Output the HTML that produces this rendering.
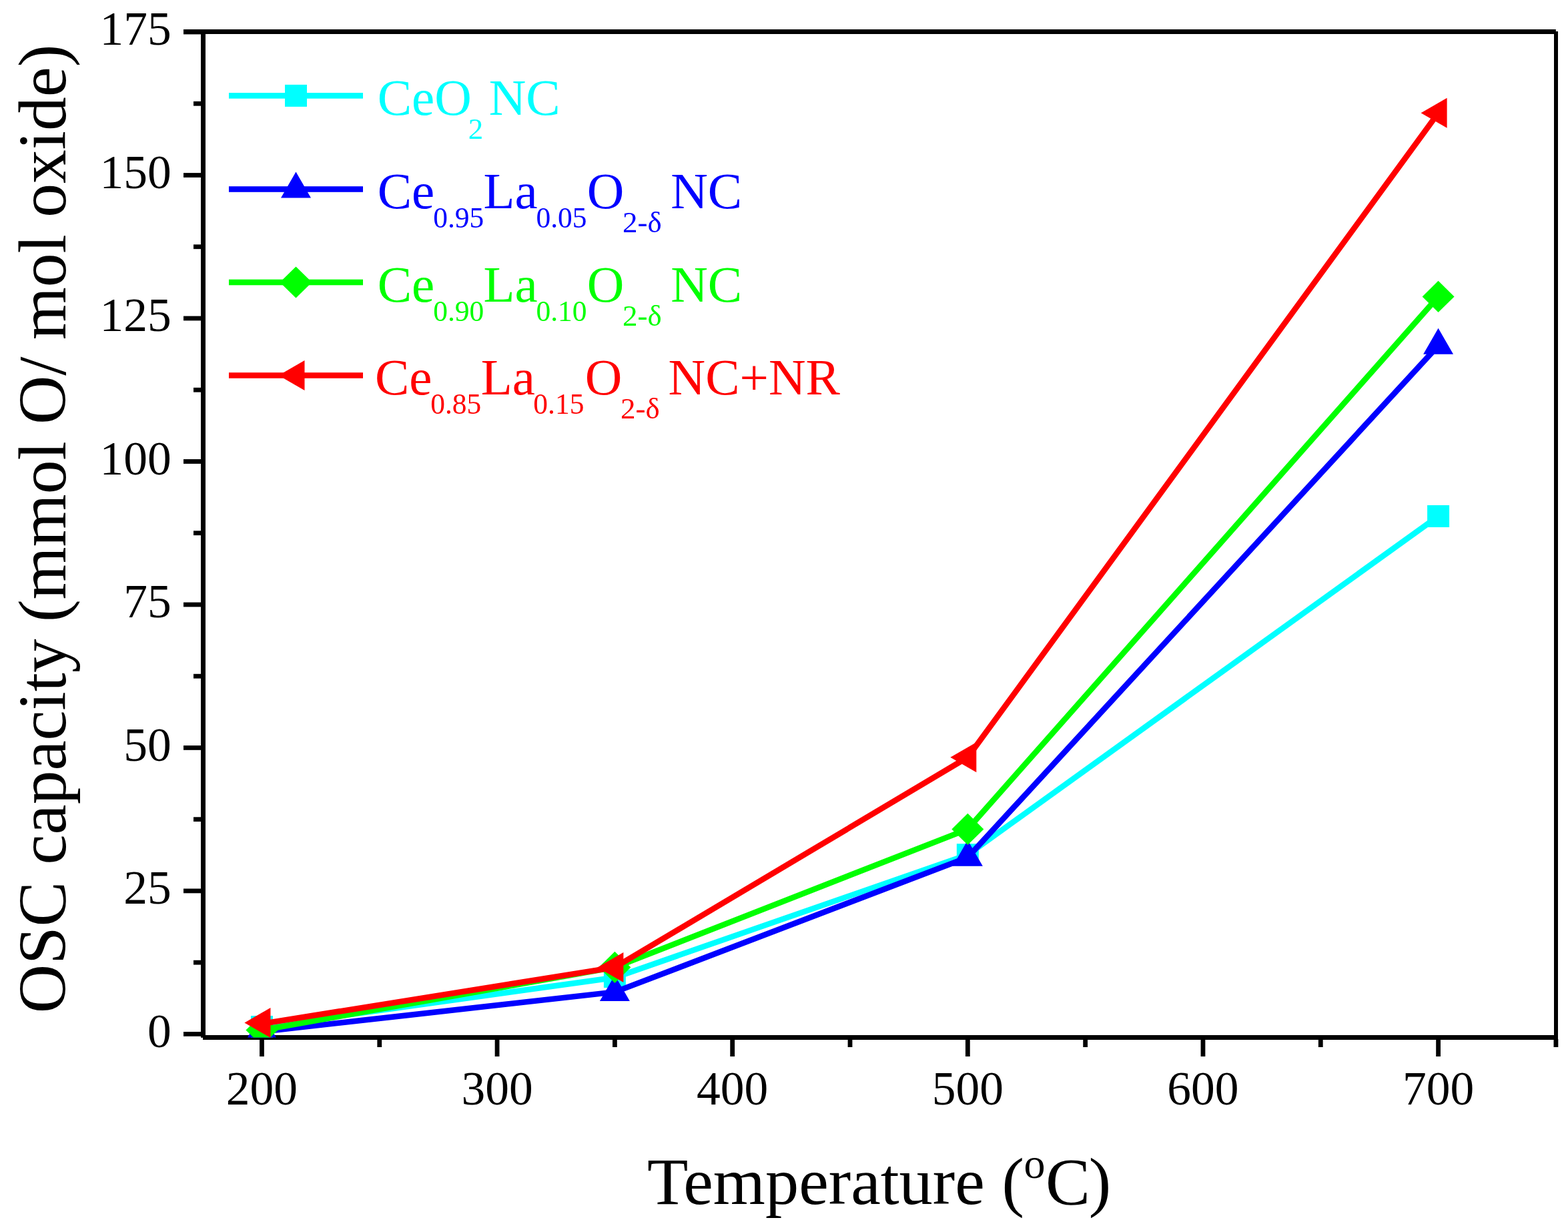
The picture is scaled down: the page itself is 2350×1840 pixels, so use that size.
<!DOCTYPE html><html><head><meta charset="utf-8"><style>html,body{margin:0;padding:0;background:#fff}svg{display:block}text{font-family:"Liberation Serif","Times New Roman",serif}</style></head><body>
<svg width="2350" height="1840" viewBox="0 0 2350 1840">
<rect width="2350" height="1840" fill="#fff"/>
<g fill="#000">
<rect x="275" y="44" width="2056.8" height="7"/>
<rect x="301" y="44" width="7" height="1510.8"/>
<rect x="2329" y="47" width="6" height="1522"/>
<rect x="304" y="1551" width="2028" height="7"/>
<rect x="275" y="1546.00" width="27" height="6.8"/>
<rect x="290" y="1438.76" width="12" height="6.8"/>
<rect x="275" y="1331.52" width="27" height="6.8"/>
<rect x="290" y="1224.28" width="12" height="6.8"/>
<rect x="275" y="1117.04" width="27" height="6.8"/>
<rect x="290" y="1009.79" width="12" height="6.8"/>
<rect x="275" y="902.55" width="27" height="6.8"/>
<rect x="290" y="795.31" width="12" height="6.8"/>
<rect x="275" y="688.07" width="27" height="6.8"/>
<rect x="290" y="580.83" width="12" height="6.8"/>
<rect x="275" y="473.59" width="27" height="6.8"/>
<rect x="290" y="366.35" width="12" height="6.8"/>
<rect x="275" y="259.11" width="27" height="6.8"/>
<rect x="290" y="151.86" width="12" height="6.8"/>
<rect x="275" y="44.62" width="27" height="6.8"/>
<rect x="389.05" y="1557" width="6.8" height="26"/>
<rect x="565.37" y="1557" width="6.8" height="12"/>
<rect x="741.68" y="1557" width="6.8" height="26"/>
<rect x="918.00" y="1557" width="6.8" height="12"/>
<rect x="1094.31" y="1557" width="6.8" height="26"/>
<rect x="1270.62" y="1557" width="6.8" height="12"/>
<rect x="1446.94" y="1557" width="6.8" height="26"/>
<rect x="1623.25" y="1557" width="6.8" height="12"/>
<rect x="1799.57" y="1557" width="6.8" height="26"/>
<rect x="1975.88" y="1557" width="6.8" height="12"/>
<rect x="2152.20" y="1557" width="6.8" height="26"/>
<rect x="2328.51" y="1557" width="6.8" height="12"/>
</g>
<g font-size="71.5" fill="#000">
<text x="256.7" y="1568.50" text-anchor="end">0</text>
<text x="256.7" y="1354.02" text-anchor="end">25</text>
<text x="256.7" y="1139.54" text-anchor="end">50</text>
<text x="256.7" y="925.05" text-anchor="end">75</text>
<text x="256.7" y="710.57" text-anchor="end">100</text>
<text x="256.7" y="496.09" text-anchor="end">125</text>
<text x="256.7" y="281.61" text-anchor="end">150</text>
<text x="256.7" y="67.12" text-anchor="end">175</text>
<text x="392.45" y="1655" text-anchor="middle">200</text>
<text x="745.08" y="1655" text-anchor="middle">300</text>
<text x="1097.71" y="1655" text-anchor="middle">400</text>
<text x="1450.34" y="1655" text-anchor="middle">500</text>
<text x="1802.97" y="1655" text-anchor="middle">600</text>
<text x="2155.60" y="1655" text-anchor="middle">700</text>
</g>
<text y="1803.8" font-size="100.4" fill="#000"><tspan x="970">Temperature</tspan><tspan x="1501.45">(</tspan><tspan x="1534.56" y="1765.3" font-size="64">o</tspan><tspan x="1566.9" y="1803.8">C</tspan><tspan x="1631.8">)</tspan></text>
<text transform="translate(97.5 792.4) rotate(-90)" font-size="101.5" text-anchor="middle" fill="#000">OSC capacity (mmol O/ mol oxide)</text>
<defs><clipPath id="pc"><rect x="304.5" y="47.5" width="2027.5" height="1507.0"/></clipPath></defs>
<g clip-path="url(#pc)">
<polyline points="392.45,1538.50 921.39,1464.70 1450.34,1280.70 2155.60,773.50" fill="none" stroke="#00FFFF" stroke-width="8.6" stroke-linejoin="miter"/>
<rect x="375.95" y="1522.00" width="33" height="33" fill="#00FFFF"/>
<rect x="904.89" y="1447.00" width="33" height="33" fill="#00FFFF"/>
<rect x="1433.84" y="1264.20" width="33" height="33" fill="#00FFFF"/>
<rect x="2139.10" y="757.00" width="33" height="33" fill="#00FFFF"/>
<polyline points="392.45,1545.70 921.39,1486.40 1450.34,1284.70 2155.60,517.80" fill="none" stroke="#0000FF" stroke-width="8.6" stroke-linejoin="miter"/>
<polygon points="392.45,1517.40 414.95,1556.40 369.95,1556.40" fill="#0000FF"/>
<polygon points="921.39,1460.90 943.89,1499.90 898.89,1499.90" fill="#0000FF"/>
<polygon points="1450.34,1258.70 1472.84,1297.70 1427.84,1297.70" fill="#0000FF"/>
<polygon points="2155.60,491.80 2178.10,530.80 2133.10,530.80" fill="#0000FF"/>
<polyline points="392.45,1543.40 921.39,1449.40 1450.34,1242.40 2155.60,444.40" fill="none" stroke="#00FF00" stroke-width="8.6" stroke-linejoin="miter"/>
<polygon points="392.45,1519.80 416.45,1543.40 392.45,1567.00 368.45,1543.40" fill="#00FF00"/>
<polygon points="921.39,1425.80 945.39,1449.40 921.39,1473.00 897.39,1449.40" fill="#00FF00"/>
<polygon points="1450.34,1218.80 1474.34,1242.40 1450.34,1266.00 1426.34,1242.40" fill="#00FF00"/>
<polygon points="2155.60,420.80 2179.60,444.40 2155.60,468.00 2131.60,444.40" fill="#00FF00"/>
<polyline points="392.45,1534.00 921.39,1449.50 1450.34,1134.80 2155.60,169.30" fill="none" stroke="#FF0000" stroke-width="8.6" stroke-linejoin="miter"/>
<polygon points="366.45,1532.40 405.45,1509.90 405.45,1554.90" fill="#FF0000"/>
<polygon points="895.39,1449.40 934.39,1426.90 934.39,1471.90" fill="#FF0000"/>
<polygon points="1424.34,1134.80 1463.34,1112.30 1463.34,1157.30" fill="#FF0000"/>
<polygon points="2129.60,169.30 2168.60,146.80 2168.60,191.80" fill="#FF0000"/>
</g>
<rect x="343" y="139.10" width="201" height="8.6" fill="#00FFFF"/>
<rect x="427.00" y="126.90" width="33" height="33" fill="#00FFFF"/>
<rect x="343" y="279.20" width="201" height="8.6" fill="#0000FF"/>
<polygon points="443.50,257.50 466.00,296.50 421.00,296.50" fill="#0000FF"/>
<rect x="343" y="418.70" width="201" height="8.6" fill="#00FF00"/>
<polygon points="443.50,399.40 467.50,423.00 443.50,446.60 419.50,423.00" fill="#00FF00"/>
<rect x="343" y="558.20" width="201" height="8.6" fill="#FF0000"/>
<polygon points="417.50,562.50 456.50,540.00 456.50,585.00" fill="#FF0000"/>
<text font-size="77" fill="#00FFFF"><tspan x="565.64" y="172.10">CeO</tspan><tspan x="701.72" y="208.00" font-size="45">2</tspan><tspan x="732.68" y="172.10">NC</tspan></text>
<text font-size="77" fill="#0000FF"><tspan x="565.74" y="312.00">Ce</tspan><tspan x="649.24" y="341.20" font-size="43.5">0.95</tspan><tspan x="724.58" y="312.00">La</tspan><tspan x="803.44" y="341.20" font-size="43.5">0.05</tspan><tspan x="879.74" y="312.00">O</tspan><tspan x="932.92" y="347.90" font-size="45">2-δ</tspan><tspan x="1005.28" y="312.00">NC</tspan></text>
<text font-size="77" fill="#00FF00"><tspan x="565.74" y="452.00">Ce</tspan><tspan x="649.24" y="481.20" font-size="43.5">0.90</tspan><tspan x="724.58" y="452.00">La</tspan><tspan x="803.44" y="481.20" font-size="43.5">0.10</tspan><tspan x="879.74" y="452.00">O</tspan><tspan x="932.92" y="487.90" font-size="45">2-δ</tspan><tspan x="1005.28" y="452.00">NC</tspan></text>
<text font-size="77" fill="#FF0000"><tspan x="561.94" y="591.00">Ce</tspan><tspan x="645.14" y="620.20" font-size="43.5">0.85</tspan><tspan x="720.78" y="591.00">La</tspan><tspan x="799.29" y="620.20" font-size="43.5">0.15</tspan><tspan x="876.64" y="591.00">O</tspan><tspan x="930.02" y="626.90" font-size="45">2-δ</tspan><tspan x="1001.58" y="591.00">NC+NR</tspan></text>
</svg></body></html>
